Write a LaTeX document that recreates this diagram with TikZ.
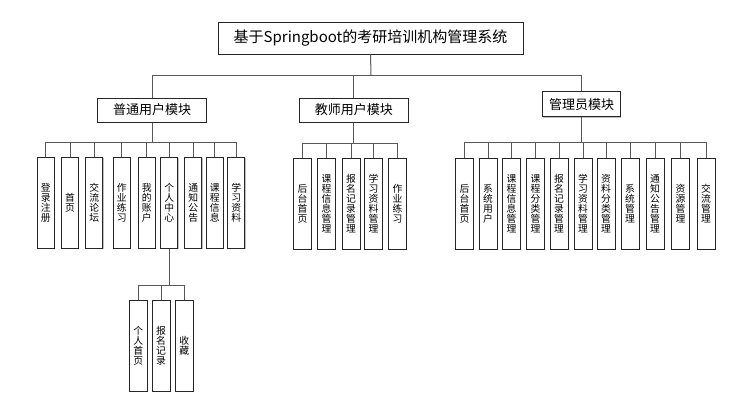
\documentclass[tikz,border=0pt]{standalone}
\usepackage{fontspec}
\setmainfont{Noto Sans CJK SC}
\usetikzlibrary{shadows}
\tikzset{
    box/.style={draw=black!85, line width=1pt, fill=white, inner sep=0pt,
        drop shadow={shadow xshift=.7pt, shadow yshift=-.7pt, fill=black!25, opacity=1}},
    titlebox/.style={box, minimum width=305pt, minimum height=32pt, font=\fontsize{15}{18}\selectfont},
    modbox/.style={box, minimum height=24pt, font=\fontsize{13}{15}\selectfont},
    leafbox/.style={box, minimum width=#1, minimum height=91pt, align=center,
        font=\fontsize{9.8}{10}\selectfont},
    leafbox/.default=18pt,
    link/.style={draw=black!65, line width=1pt},
}
\begin{document}
\begin{tikzpicture}[x=1pt, y=-1pt]
    \useasboundingbox (0,0) rectangle (743,402);
    % 顶层
    \node[titlebox] (sys) at (370.5,38) {基于Springboot的考研培训机构管理系统};
    \node[modbox, minimum width=109pt] (user) at (152.2,110) {普通用户模块};
    \node[modbox, minimum width=109pt] (teacher) at (353.8,110) {教师用户模块};
    \node[modbox, minimum width=78pt, minimum height=25pt] (admin) at (581.7,104.3) {管理员模块};
    \coordinate (top bus) at (371,75);
    \draw[link] (sys.south) -- (top bus);
    \foreach \m in {user,teacher,admin}
        \draw[link] (top bus) -| (\m.north);
    % 普通用户
    \coordinate (user bus) at (152.2,142.5);
    \draw[link] (user.south) -- (user bus);
    \foreach \x/\t [count=\i] in {45.7/{登\\录\\注\\册}, 70/{首\\页}, 94.3/{交\\流\\论\\坛},
        121.7/{作\\业\\练\\习}, 146.7/{我\\的\\账\\户}, 169.3/{个\\人\\中\\心},
        193.3/{通\\知\\公\\告}, 214.7/{课\\程\\信\\息}, 236.3/{学\\习\\资\\料}}
    {
        \node[leafbox=17pt] (user\i) at (\x,203) {\t};
        \draw[link] (user bus) -| (user\i.north);
    }
    % 教师用户
    \coordinate (teacher bus) at (353.8,143);
    \draw[link] (teacher.south) -- (teacher bus);
    \foreach \x/\t [count=\i] in {302.5/{后\\台\\首\\页}, 326.5/{课\\程\\信\\息\\管\\理},
        351/{报\\名\\记\\录\\管\\理}, 373.5/{学\\习\\资\\料\\管\\理}, 397.5/{作\\业\\练\\习}}
    {
        \node[leafbox] (teacher\i) at (\x,203.5) {\t};
        \draw[link] (teacher bus) -| (teacher\i.north);
    }
    % 管理员
    \coordinate (admin bus) at (581.7,142.7);
    \draw[link] (admin.south) -- (admin bus);
    \foreach \x/\t [count=\i] in {464.5/{后\\台\\首\\页}, 488/{系\\统\\用\\户},
        511.5/{课\\程\\信\\息\\管\\理}, 535.5/{课\\程\\分\\类\\管\\理},
        559/{报\\名\\记\\录\\管\\理}, 583/{学\\习\\资\\料\\管\\理},
        606/{资\\料\\分\\类\\管\\理}, 630/{系\\统\\管\\理},
        655/{通\\知\\公\\告\\管\\理}, 680.5/{资\\源\\管\\理}, 706/{交\\流\\管\\理}}
    {
        \node[leafbox] (admin\i) at (\x,203.5) {\t};
        \draw[link] (admin bus) -| (admin\i.north);
    }
    % 个人中心
    \coordinate (center bus) at (169.3,285);
    \draw[link] (user6.south) -- (center bus);
    \foreach \x/\t [count=\i] in {138.3/{个\\人\\首\\页}, 161/{报\\名\\记\\录}, 184.3/{收\\藏}}
    {
        \node[leafbox] (center\i) at (\x,346) {\t};
        \draw[link] (center bus) -| (center\i.north);
    }
\end{tikzpicture}
\end{document}
